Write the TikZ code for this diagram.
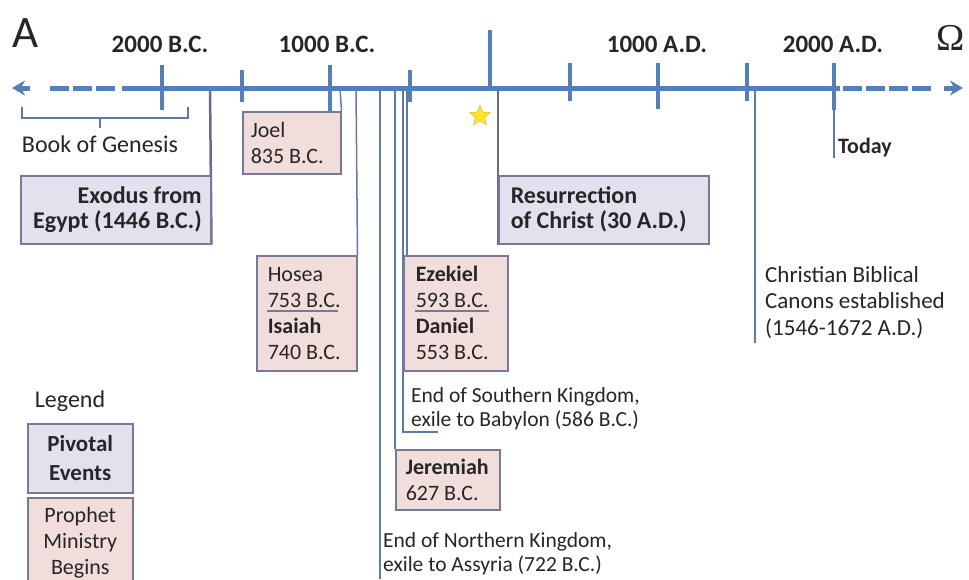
\documentclass[tikz,border=0pt]{standalone}
\usepackage{fontspec}
\setmainfont{Carlito}
\newfontfamily\omegafont{Liberation Serif}
\usetikzlibrary{arrows.meta,shapes.geometric}
\definecolor{tlblue}{RGB}{84,128,185}
\definecolor{vblue}{RGB}{96,122,165}
\definecolor{pgrey}{RGB}{112,104,138}
\definecolor{boxline}{RGB}{118,122,150}
\definecolor{pivotfill}{RGB}{229,224,238}
\definecolor{prophetfill}{RGB}{242,221,221}
\definecolor{txt}{RGB}{38,38,38}
\begin{document}
\begin{tikzpicture}[x=1pt,y=-1pt,
  axis/.style={draw=tlblue, line width=5pt},
  tickmark/.style={draw=tlblue, line width=3.5pt},
  vline/.style={draw=vblue, line width=1.5pt},
  pline/.style={draw=pgrey, line width=2.5pt},
  datelabel/.style={font=\bfseries\fontsize{25}{28}\selectfont, text=txt, inner sep=0pt, anchor=base},
  pivotbox/.style={draw=boxline, fill=pivotfill, line width=1.5pt, inner ysep=0pt, anchor=north west, text=txt, font=\bfseries\fontsize{24}{25}\selectfont},
  prophetbox/.style={draw=boxline, fill=prophetfill, line width=1.5pt, inner ysep=0pt, anchor=north west, text=txt, align=flush left, font=\fontsize{22}{26}\selectfont},
  note/.style={inner sep=0pt, text=txt, align=flush left, anchor=north west, font=\fontsize{21.5}{24}\selectfont}
]
\useasboundingbox (0,0) rectangle (969,579);
\fill[white] (0,0) rectangle (969,579);
\clip (0,0) rectangle (969,579);

% axis coordinates
\coordinate (tExodus) at (210,88);
\coordinate (tJoel) at (340,88);
\coordinate (tHosea) at (356,88);
\coordinate (tNorth) at (380,88);
\coordinate (tJer) at (395,88);
\coordinate (tSouth) at (403,88);
\coordinate (tEzek) at (407,88);
\coordinate (tRes) at (498,88);
\coordinate (tCanon) at (755,88);
\coordinate (tToday) at (834,88);
\coordinate (northEnd) at (380,579);
\coordinate (southBend) at (403,432);
\coordinate (southEnd) at (438,432);
\coordinate (canonEnd) at (755,343);
\coordinate (todayEnd) at (834,158);

% boxes
\node[pivotbox, align=flush right, inner xsep=9pt, text width=172pt, minimum width=190pt, minimum height=68pt] (exodus) at (20,175) {Exodus from\\Egypt (1446 B.C.)};
\node[pivotbox, align=flush left, inner xsep=12pt, text width=186pt, minimum width=210pt, minimum height=68pt] (res) at (498,175) {Resurrection\\of Christ (30 A.D.)};
\node[prophetbox, inner xsep=8pt, text width=82pt, minimum width=98pt, minimum height=62pt] (joel) at (242,111) {Joel\\835 B.C.};
\node[prophetbox, inner xsep=11pt, text width=78pt, minimum width=100pt, minimum height=115pt] (hosea) at (256,255) {Hosea\\753 B.C.\\\textbf{Isaiah}\\740 B.C.};
\node[prophetbox, inner xsep=12pt, text width=80pt, minimum width=104pt, minimum height=115pt] (ezek) at (403,255) {\textbf{Ezekiel}\\593 B.C.\\\textbf{Daniel}\\553 B.C.};
\node[prophetbox, inner xsep=10pt, text width=84pt, minimum width=104pt, minimum height=60pt] (jer) at (395,449) {\textbf{Jeremiah}\\627 B.C.};

% connectors
\draw[pline] (tExodus) -- (exodus.south east);
\draw[pline] (tRes) -- (res.south west);
\draw[vline] (tJoel) -- (joel.north east);
\draw[vline] (tHosea) -- (hosea.north east);
\draw[vline] (tNorth) -- (northEnd);
\draw[vline] (tJer) -- (jer.north west);
\draw[vline] (tSouth) -- (southBend) -- (southEnd);
\draw[vline] (tEzek) -- ([xshift=4pt]ezek.north west);
\draw[vline] (tCanon) -- (canonEnd);
\draw[vline] (tToday) -- (todayEnd);

% redraw boxes on top of lines
\node[pivotbox, align=flush right, inner xsep=9pt, text width=172pt, minimum width=190pt, minimum height=68pt] at (20,175) {Exodus from\\Egypt (1446 B.C.)};
\node[pivotbox, align=flush left, inner xsep=12pt, text width=186pt, minimum width=210pt, minimum height=68pt] at (498,175) {Resurrection\\of Christ (30 A.D.)};
\node[prophetbox, inner xsep=11pt, text width=78pt, minimum width=100pt, minimum height=115pt] at (256,255) {Hosea\\753 B.C.\\\textbf{Isaiah}\\740 B.C.};
\node[prophetbox, inner xsep=12pt, text width=80pt, minimum width=104pt, minimum height=115pt] at (403,255) {\textbf{Ezekiel}\\593 B.C.\\\textbf{Daniel}\\553 B.C.};
\draw[boxline, line width=1.5pt] (267,311) -- (338,311);
\draw[boxline, line width=1.5pt] (415,311) -- (489,311);

% axis
\draw[axis] (122,88) -- (840,88);
\draw[axis, dash pattern=on 19pt off 4pt] (50,88) -- (118,88);
\draw[axis, dash pattern=on 19pt off 4pt] (843,88) -- (932,88);
\draw[axis, -{Stealth[length=13pt,width=15pt]}] (30,88) -- (12,88);
\draw[axis, -{Stealth[length=13pt,width=15pt]}] (944,88) -- (963,88);

% ticks
\draw[tickmark] (162,65) -- (162,110);
\draw[tickmark] (242,70) -- (242,102);
\draw[tickmark] (330,65) -- (330,112);
\draw[tickmark] (410,70) -- (410,102);
\draw[tickmark] (490,30) -- (490,88);
\draw[tickmark] (570,63) -- (570,101);
\draw[tickmark] (658,63) -- (658,109);
\draw[tickmark] (747,63) -- (747,101);
\draw[tickmark] (834,63) -- (834,110);

% labels
\node[inner sep=0pt, anchor=base west, text=txt, font=\fontsize{45}{48}\selectfont] (alpha) at (12,47) {A};
\node[inner sep=0pt, anchor=base, text=txt, font=\omegafont\fontsize{38}{40}\selectfont] (omega) at (951,50) {Ω};
\node[datelabel] (l2000bc) at (160,52) {2000 B.C.};
\node[datelabel] (l1000bc) at (327,52) {1000 B.C.};
\node[datelabel] (l1000ad) at (657,52) {1000 A.D.};
\node[datelabel] (l2000ad) at (833,52) {2000 A.D.};

% Genesis bracket
\draw[vblue, line width=1.3pt] (22,107) -- (22,118) -- (188,118) -- (188,107);
\draw[vblue, line width=1.3pt] (100,118) -- (100,128);
\node[inner sep=0pt, anchor=base, text=txt, font=\fontsize{24}{26}\selectfont] (genesis) at (100,152) {Book of Genesis};

% star
\node[star, star points=5, star point ratio=2.3, fill={rgb,255:red,255;green,230;blue,40}, draw={rgb,255:red,240;green,190;blue,60}, line width=0.6pt, minimum size=22pt, inner sep=0pt] (star) at (480,116) {};

% notes
\node[note] (south) at (411,387) {End of Southern Kingdom,\\exile to Babylon (586 B.C.)};
\node[note] (north) at (383,532) {End of Northern Kingdom,\\exile to Assyria (722 B.C.)};
\node[note, font=\fontsize{23}{26.5}\selectfont] (canon) at (765,266) {Christian Biblical\\Canons established\\(1546-1672 A.D.)};
\node[inner sep=0pt, anchor=base west, text=txt, font=\bfseries\fontsize{22}{24}\selectfont] (today) at (838,153) {Today};

% legend
\node[inner sep=0pt, anchor=base, text=txt, font=\fontsize{24}{26}\selectfont] (legend) at (70,407) {Legend};
\node[pivotbox, align=flush center, inner xsep=4pt, text width=97pt, minimum width=105pt, minimum height=69pt, font=\bfseries\fontsize{23}{29}\selectfont] (legpivot) at (27,423) {Pivotal\\Events};
\node[prophetbox, align=flush center, inner xsep=4pt, text width=97pt, minimum width=105pt, minimum height=90pt, font=\fontsize{22}{26}\selectfont] (legprophet) at (27,497) {Prophet\\Ministry\\Begins};
\end{tikzpicture}
\end{document}
